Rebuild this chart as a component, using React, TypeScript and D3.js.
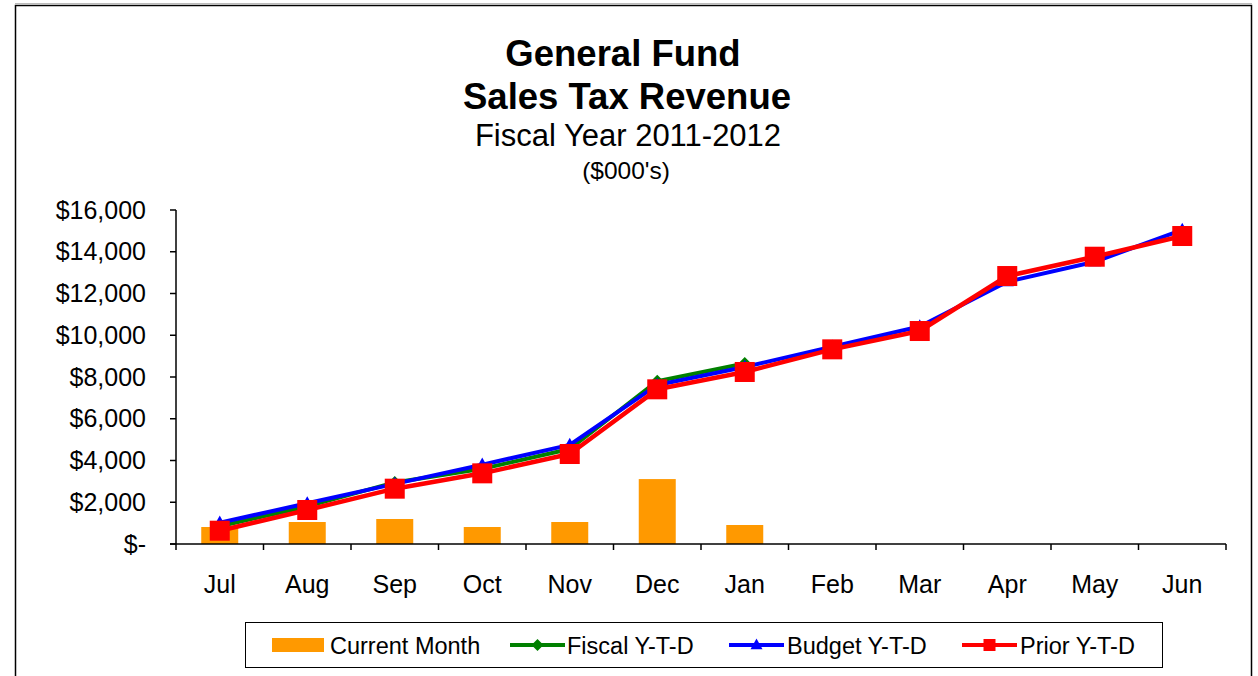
import React from "react";
import * as d3 from "d3";

const months = ["Jul", "Aug", "Sep", "Oct", "Nov", "Dec", "Jan", "Feb", "Mar", "Apr", "May", "Jun"];
const currentMonth = [814, 1054, 1198, 814, 1054, 3110, 910];
const fiscalYTD = [850, 1800, 2950, 3600, 4550, 7800, 8650];
const budgetYTD = [1020, 1950, 2880, 3800, 4750, 7620, 8480, 9450, 10420, 12560, 13520, 15050];
const priorYTD = [637, 1629, 2650, 3385, 4311, 7410, 8240, 9325, 10203, 12837, 13762, 14754];
const yTicks = [0, 2000, 4000, 6000, 8000, 10000, 12000, 14000, 16000];

const FONT = "'Liberation Sans', Arial, sans-serif";

export default function App() {
  const W = 1258, H = 676;
  const left = 176, right = 1226, top = 210, bottom = 544;
  const x = d3.scaleBand<string>().domain(months).range([left, right]).paddingInner(0).paddingOuter(0);
  const y = d3.scaleLinear().domain([0, 16000]).range([bottom, top]);
  const cx = (i: number) => (x(months[i]) as number) + x.bandwidth() / 2;
  const barW = 37;
  const fmt = (v: number) => (v === 0 ? "$-" : "$" + d3.format(",")(v));
  const line = d3.line<number>().x((_, i) => cx(i)).y((d) => y(d));

  const diamond = (px: number, py: number, r: number) =>
    `M${px},${py - r}L${px + r},${py}L${px},${py + r}L${px - r},${py}Z`;
  const tri = (px: number, py: number, r: number) =>
    `M${px},${py - r * 1.1}L${px + r},${py + r * 0.7}L${px - r},${py + r * 0.7}Z`;

  const legendY = 645;

  return (
    <svg width={W} height={H} style={{ position: "absolute", left: 0, top: 0, background: "#fff" }} fontFamily={FONT}>
      <rect x={0} y={0} width={W} height={H} fill="#fff" />
      <line x1={15} y1={3.5} x2={1252} y2={3.5} stroke="#bbb" strokeWidth={1} />
      <rect x={15.5} y={5.5} width={1236} height={700} fill="none" stroke="#000" strokeWidth={1.5} />

      {/* Titles */}
      <text x={623} y={66} textAnchor="middle" fontSize={36.5} fontWeight="bold">General Fund</text>
      <text x={627} y={109} textAnchor="middle" fontSize={36.5} fontWeight="bold">Sales Tax Revenue</text>
      <text x={628} y={146} textAnchor="middle" fontSize={31}>Fiscal Year 2011-2012</text>
      <text x={626} y={179} textAnchor="middle" fontSize={24.5}>($000's)</text>

      {/* Y axis */}
      <line x1={left} y1={top} x2={left} y2={bottom + 6} stroke="#000" strokeWidth={1.5} />
      {yTicks.map((t) => (
        <g key={t}>
          <line x1={left - 6} x2={left} y1={y(t)} y2={y(t)} stroke="#000" strokeWidth={1.5} />
          <text x={146} y={y(t) + 8.5} textAnchor="end" fontSize={25}>{fmt(t)}</text>
        </g>
      ))}

      {/* Bars */}
      {currentMonth.map((v, i) => (
        <rect key={i} x={cx(i) - barW / 2} y={y(v)} width={barW} height={bottom - y(v)} fill="#FF9900" />
      ))}

      {/* X axis */}
      <line x1={left - 6} x2={right} y1={bottom} y2={bottom} stroke="#000" strokeWidth={1.5} />
      {months.map((m, i) => (
        <line key={"t" + i} x1={(x(m) as number) + x.bandwidth()} x2={(x(m) as number) + x.bandwidth()} y1={bottom} y2={bottom + 6} stroke="#000" strokeWidth={1.5} />
      ))}
      {months.map((m, i) => (
        <text key={"l" + i} x={cx(i)} y={593} textAnchor="middle" fontSize={25}>{m}</text>
      ))}

      {/* Lines */}
      <path d={line(fiscalYTD) as string} fill="none" stroke="#008000" strokeWidth={4} strokeLinejoin="round" />
      {fiscalYTD.map((v, i) => (
        <path key={"f" + i} d={diamond(cx(i), y(v), 6.5)} fill="#008000" />
      ))}
      <path d={line(budgetYTD) as string} fill="none" stroke="#0000FF" strokeWidth={4} strokeLinejoin="round" />
      {budgetYTD.map((v, i) => (
        <path key={"b" + i} d={tri(cx(i), y(v), 6.5)} fill="#0000FF" />
      ))}
      <path d={line(priorYTD) as string} fill="none" stroke="#FF0000" strokeWidth={4.5} strokeLinejoin="round" />
      {priorYTD.map((v, i) => (
        <rect key={"p" + i} x={cx(i) - 10} y={y(v) - 10} width={20} height={20} fill="#FF0000" />
      ))}

      {/* Legend */}
      <rect x={245.5} y={622.5} width={917} height={45} fill="#fff" stroke="#000" strokeWidth={1} />
      <rect x={272} y={638} width={52} height={14} fill="#FF9900" />
      <text x={330} y={653.5} fontSize={23.5}>Current Month</text>

      <line x1={510} x2={565} y1={legendY} y2={legendY} stroke="#008000" strokeWidth={4} />
      <path d={diamond(537.5, legendY, 6)} fill="#008000" />
      <text x={567} y={653.5} fontSize={23.5}>Fiscal Y-T-D</text>

      <line x1={729} x2={784} y1={legendY} y2={legendY} stroke="#0000FF" strokeWidth={4} />
      <path d={tri(756.5, legendY, 6)} fill="#0000FF" />
      <text x={787} y={653.5} fontSize={23.5}>Budget  Y-T-D</text>

      <line x1={962} x2={1017} y1={legendY} y2={legendY} stroke="#FF0000" strokeWidth={4} />
      <rect x={983.5} y={legendY - 6} width={12} height={12} fill="#FF0000" />
      <text x={1020} y={653.5} fontSize={23.5}>Prior  Y-T-D</text>
    </svg>
  );
}
